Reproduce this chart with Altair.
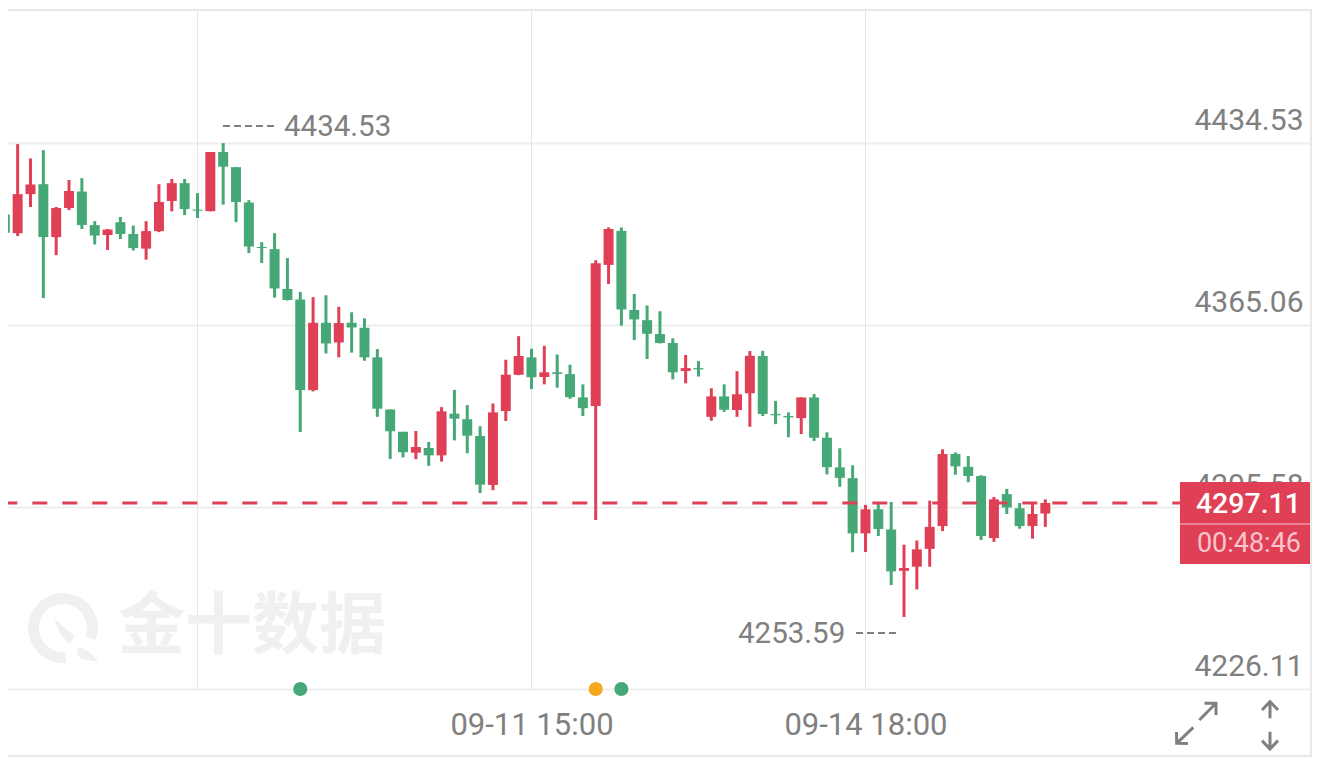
import altair as alt
import pandas as pd

# candles, oldest first (red = close above open)
opens = [4407.2, 4400.1, 4415.0, 4418.8, 4398.6, 4409.7, 4416.0, 4403.2, 4399.4, 4404.3,
         4399.8, 4394.2, 4400.9, 4412.4, 4419.2, 4409.1, 4408.5, 4431.1, 4425.3, 4411.8,
         4394.8, 4394.0, 4378.8, 4374.8, 4340.2, 4365.9, 4358.4, 4365.9, 4364.0, 4352.7,
         4332.8, 4324.3, 4316.3, 4318.1, 4315.3, 4331.2, 4329.1, 4322.7, 4304.0, 4332.2,
         4346.1, 4352.7, 4345.2, 4347.0, 4346.3, 4337.4, 4334.1, 4388.0, 4401.0, 4370.8,
         4366.9, 4361.6, 4358.2, 4347.5, 4348.6, 4330.0, 4337.8, 4332.6, 4339.0, 4353.2,
         4331.1, 4330.3, 4329.5, 4337.4, 4322.0, 4310.7, 4306.6, 4285.5, 4294.7, 4287.0,
         4271.2, 4272.8, 4279.6, 4288.3, 4315.8, 4310.9, 4307.4, 4283.7, 4300.5, 4295.1,
         4288.3, 4293.1]
highs = [4409.3, 4434.1, 4428.6, 4431.8, 4410.1, 4420.4, 4421.1, 4404.7, 4401.7, 4406.3,
         4403.0, 4404.7, 4418.8, 4420.8, 4420.8, 4415.4, 4431.1, 4434.5, 4425.3, 4412.7,
         4396.7, 4400.1, 4390.6, 4377.7, 4375.7, 4376.4, 4372.0, 4369.9, 4367.6, 4355.9,
         4332.8, 4324.3, 4324.6, 4320.4, 4333.7, 4340.3, 4334.5, 4326.4, 4335.1, 4351.8,
         4360.8, 4356.0, 4357.1, 4353.8, 4349.9, 4342.4, 4389.8, 4402.3, 4402.3, 4376.9,
         4372.5, 4370.3, 4360.0, 4353.6, 4351.3, 4340.9, 4342.4, 4347.4, 4355.1, 4355.2,
         4336.1, 4331.7, 4337.4, 4338.7, 4324.1, 4318.0, 4311.5, 4296.4, 4296.7, 4297.5,
         4281.2, 4282.8, 4298.0, 4317.6, 4316.4, 4315.0, 4307.7, 4299.4, 4302.5, 4297.1,
         4297.3, 4298.5]
lows = [4391.0, 4399.0, 4410.1, 4375.3, 4391.7, 4408.9, 4401.7, 4395.8, 4393.7, 4397.9,
        4393.5, 4390.0, 4400.5, 4408.4, 4407.0, 4405.9, 4408.4, 4411.0, 4404.3, 4392.5,
        4388.7, 4375.5, 4374.4, 4324.2, 4339.7, 4354.2, 4352.7, 4354.5, 4351.4, 4330.0,
        4313.9, 4314.5, 4313.8, 4311.3, 4312.9, 4321.0, 4316.1, 4300.9, 4302.0, 4328.4,
        4345.9, 4340.6, 4342.4, 4341.1, 4336.9, 4330.3, 4290.6, 4380.7, 4364.8, 4359.3,
        4352.1, 4358.0, 4344.3, 4342.8, 4345.4, 4328.5, 4331.9, 4330.0, 4326.2, 4330.3,
        4327.2, 4322.2, 4323.4, 4320.8, 4308.0, 4303.3, 4278.3, 4278.4, 4284.5, 4265.8,
        4253.6, 4264.1, 4272.8, 4286.4, 4307.9, 4305.0, 4283.0, 4282.3, 4292.9, 4287.3,
        4283.5, 4288.0]
closes = [4400.3, 4415.0, 4418.7, 4398.6, 4409.7, 4416.2, 4403.2, 4399.2, 4401.5, 4399.8,
          4394.4, 4400.9, 4412.0, 4419.2, 4409.3, 4408.7, 4431.1, 4425.5, 4412.0, 4395.0,
          4394.4, 4379.0, 4374.6, 4340.2, 4365.9, 4358.0, 4365.8, 4364.1, 4352.7, 4333.1,
          4324.5, 4316.5, 4318.5, 4315.3, 4332.1, 4329.3, 4322.8, 4304.1, 4331.7, 4346.1,
          4353.2, 4345.1, 4347.0, 4346.4, 4337.5, 4333.3, 4388.6, 4401.7, 4371.0, 4367.2,
          4361.7, 4358.2, 4347.0, 4348.6, 4348.1, 4337.8, 4332.7, 4338.6, 4353.3, 4331.1,
          4330.6, 4329.8, 4337.4, 4322.0, 4310.8, 4306.7, 4285.5, 4294.7, 4287.2, 4271.0,
          4272.3, 4279.4, 4288.0, 4315.8, 4311.1, 4307.4, 4284.5, 4298.5, 4295.4, 4288.3,
          4292.9, 4297.1]

y_ticks = [4226.11, 4295.58, 4365.06, 4434.53]
grid_idx = [15, 41, 67]
time_idx = [41, 67]
time_labels = ["09-11 15:00", "09-14 18:00"]
event_idx = [23, 46, 48]
event_colors = ["#46a876", "#f5a81c", "#46a876"]
last_price = 4297.11
high_label = "4434.53"
low_label = "4253.59"
countdown = "00:48:46"

RED = "#e04056"
GREEN = "#46a876"
GREY = "#808080"
FONT = "Roboto"

df = pd.DataFrame({"idx": range(len(opens)), "open": opens, "high": highs,
                   "low": lows, "close": closes})
df["dir"] = [RED if c > o else GREEN for o, c in zip(df["open"], df["close"])]

x_scale = alt.Scale(domain=[0.249, 101.76], nice=False, zero=False, padding=0)
y_scale = alt.Scale(domain=[4200.15, 4486.06], nice=False, zero=False, padding=0)
dir_color = alt.Color("dir:N", scale=None)

label_expr = f"datum.value == {time_idx[0]} ? '{time_labels[0]}' : '{time_labels[1]}'"
x_axis = alt.Axis(values=time_idx, labelExpr=label_expr, offset=-68, labelPadding=21, domain=False,
                  ticks=False, grid=False, title=None, labelFont=FONT, labelFontSize=31,
                  labelColor=GREY, labelOverlap=False, labelFlush=False)
y_axis = alt.Axis(values=y_ticks, orient="right", labelPadding=-9, labelAlign="right", labelOffset=-22,
                  domain=False, ticks=False, grid=True, gridColor="#eeeeee", gridWidth=2, title=None,
                  format=".2f", labelFont=FONT, labelFontSize=30, labelColor=GREY, labelOverlap=False,
                  labelFlush=False)


def X(field="idx:Q"):
    return alt.X(field, scale=x_scale, axis=x_axis)


def Y(field):
    return alt.Y(field, scale=y_scale, axis=y_axis)


base = alt.Chart(df)

vgrid = alt.Chart(pd.DataFrame({"idx": grid_idx})).mark_rule(color="#e6e6e6", strokeWidth=1).encode(
    x=X(),
    y=alt.value(2),
    y2=alt.value(681),
)

# watermark logo + name
logo_ring = alt.Chart(pd.DataFrame({"a": [0]})).mark_arc(
    innerRadius=24, outerRadius=35, theta=3.05, theta2=8.2, color="#f0f0f0"
).encode(x=alt.value(55), y=alt.value(620))
logo_leaf = alt.Chart(pd.DataFrame({"a": [0]})).mark_point(
    shape="M-0.55,-0.6 L0.7,0.5 L0.45,1.0 Q-0.2,0.6 -0.55,-0.6Z", size=1024, filled=True,
    color="#f0f0f0", opacity=1,
).encode(x=alt.value(55), y=alt.value(620))
logo_drop = alt.Chart(pd.DataFrame({"a": [0]})).mark_point(
    shape="M1.0,1.2 Q1.6,1.3 2.2,2.1 Q1.4,2.0 1.1,1.9 Q0.7,1.5 1.0,1.2Z", size=1024, filled=True,
    color="#f0f0f0", opacity=1,
).encode(x=alt.value(55), y=alt.value(620))
logo_text = alt.Chart(pd.DataFrame({"t": ["金十数据"]})).mark_text(
    font="Noto Sans CJK SC", fontSize=67, fontWeight="bold", color="#f0f0f0", align="left", baseline="middle"
).encode(x=alt.value(110), y=alt.value(620), text="t:N")

wicks = base.mark_rule(strokeWidth=3).encode(x=X(), y=Y("low:Q"), y2="high:Q", color=dir_color)
bodies = base.mark_bar(size=10).encode(x=X(), y=Y("open:Q"), y2="close:Q", color=dir_color)

last_line = alt.Chart(pd.DataFrame({"p": [last_price]})).mark_rule(
    color=RED, strokeWidth=3, strokeDash=[15, 15], strokeDashOffset=5.7
).encode(x=alt.value(0), x2=alt.value(1172), y=Y("p:Q"))

events = alt.Chart(pd.DataFrame({"idx": event_idx, "c": event_colors, "p": [y_ticks[0]] * 3})).mark_point(
    size=200, filled=True, opacity=1
).encode(x=X(), y=Y("p:Q"), color=alt.Color("c:N", scale=None))

# high / low notes
note_text = alt.layer(
    alt.Chart(pd.DataFrame({"t": [high_label]})).mark_text(
        font=FONT, fontSize=29.5, color=GREY, align="left", baseline="middle"
    ).encode(x=alt.value(276), y=alt.value(119), text="t:N"),
    alt.Chart(pd.DataFrame({"t": [low_label]})).mark_text(
        font=FONT, fontSize=29.5, color=GREY, align="left", baseline="middle"
    ).encode(x=alt.value(730), y=alt.value(626), text="t:N"),
)
note_high = alt.Chart(pd.DataFrame({"a": [0]})).mark_rule(color=GREY, strokeWidth=2, strokeDash=[7, 4]).encode(
    x=alt.value(215), x2=alt.value(270), y=alt.value(118))
note_low = alt.Chart(pd.DataFrame({"a": [0]})).mark_rule(color=GREY, strokeWidth=2, strokeDash=[7, 4]).encode(
    x=alt.value(848), x2=alt.value(892), y=alt.value(625))

# price tag on the right
tag = alt.Chart(pd.DataFrame({"a": [0]})).mark_rect(color=RED).encode(
    x=alt.value(1172), x2=alt.value(1304), y=alt.value(474), y2=alt.value(556))
tag_line = alt.Chart(pd.DataFrame({"a": [0]})).mark_rule(color="#f6c4cc", strokeWidth=1).encode(
    x=alt.value(1172), x2=alt.value(1304), y=alt.value(516))
tag_price = alt.Chart(pd.DataFrame({"t": [f"{last_price:.2f}"]})).mark_text(
    font=FONT, fontSize=28.5, fontWeight=500, color="white", align="right", baseline="middle"
).encode(x=alt.value(1293), y=alt.value(496), text="t:N")
tag_time = alt.Chart(pd.DataFrame({"t": [countdown]})).mark_text(
    font=FONT, fontSize=27, color="#f9c5cd", align="right", baseline="middle"
).encode(x=alt.value(1293), y=alt.value(536), text="t:N")

# expand and scale icons, frame
icon_expand = alt.Chart(pd.DataFrame({"a": [0]})).mark_point(
    shape="M.14,-.175 L.975,-1.01 M.4,-1.01 L.975,-1.01 L.975,-.425 M-.16,.19 L-.99,.99 M-.425,1 L-.99,.99 L-1,.425",
    size=1600, filled=False, color=GREY, strokeWidth=3, opacity=1,
).encode(x=alt.value(1188.5), y=alt.value(715.5))
icon_scale = alt.Chart(pd.DataFrame({"a": [0]})).mark_point(
    shape="M0,-.335 L0,-1.165 M-.4,-.75 L0,-1.165 L.4,-.75 M0,.335 L0,1.2 M-.4,.78 L0,1.2 L.4,.78",
    size=1600, filled=False, color=GREY, strokeWidth=3, opacity=1,
).encode(x=alt.value(1262), y=alt.value(717))
frame_top = alt.Chart(pd.DataFrame({"a": [0]})).mark_rule(color="#e8e8e8", strokeWidth=2).encode(
    x=alt.value(0), x2=alt.value(1304), y=alt.value(2))
frame_bottom = alt.Chart(pd.DataFrame({"a": [0]})).mark_rule(color="#e8e8e8", strokeWidth=2).encode(
    x=alt.value(0), x2=alt.value(1304), y=alt.value(748))
frame_right = alt.Chart(pd.DataFrame({"a": [0]})).mark_rule(color="#e8e8e8", strokeWidth=2).encode(
    x=alt.value(1303), y=alt.value(2), y2=alt.value(748))

chart = alt.layer(
    vgrid, logo_ring, logo_leaf, logo_drop, logo_text, wicks, bodies, last_line, events,
    note_high, note_low, note_text, tag, tag_line, tag_price, tag_time, icon_expand, icon_scale,
    frame_top, frame_bottom, frame_right,
).properties(width=1304, height=749, autosize="none", padding=0, background="white").configure_view(stroke=None)

chart.save("out.html", embed_options={"renderer": "svg", "actions": False})
